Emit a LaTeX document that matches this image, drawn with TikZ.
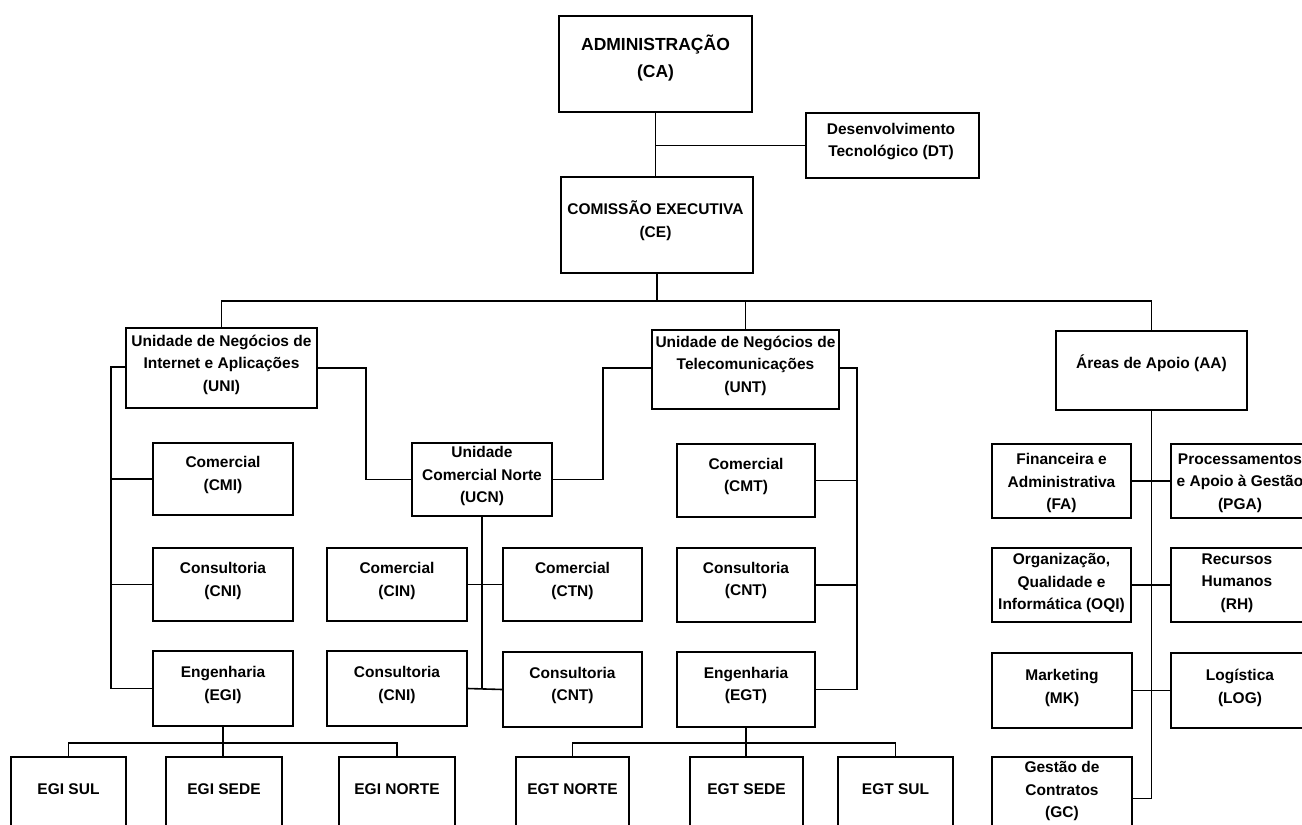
\documentclass[tikz,border=0pt]{standalone}
\usepackage{fontspec}
\setmainfont{Liberation Sans}
\begin{document}
\begin{tikzpicture}[x=1pt,y=-1pt,
  bx/.style={draw, line width=1.6pt, inner sep=0pt, rectangle},
  tx/.style={align=center, inner sep=0pt, font=\bfseries\fontsize{15.5}{22.5}\selectfont},
  bigtx/.style={align=center, inner sep=0pt, font=\bfseries\fontsize{17.5}{27}\selectfont},
  ln/.style={line width=1.6pt}]
\useasboundingbox (0,0) rectangle (1302,825);
\fill[white] (0,0) rectangle (1302,825);
\clip (0,0) rectangle (1302,825);

% ---------- top ----------
\node[bx, minimum width=193pt, minimum height=96pt] (CA) at (655.5,64) {};
\node[bigtx] (CAt) at (655.5,58.5) {ADMINISTRAÇÃO\\(CA)};
\node[bx, minimum width=173pt, minimum height=65pt] (DT) at (892.5,145.5) {};
\node[tx] (DTt) at (891,141.5) {Desenvolvimento\\Tecnológico (DT)};
\node[bx, minimum width=192pt, minimum height=96pt] (CE) at (657,225) {};
\node[tx] (CEt) at (655.5,220.5) {COMISSÃO EXECUTIVA\\(CE)};

% ---------- level 2 ----------
\node[bx, minimum width=191pt, minimum height=80pt] (UNI) at (221.5,368) {};
\node[tx] (UNIt) at (221.5,364.5) {Unidade de Negócios de\\Internet e Aplicações\\(UNI)};
\node[bx, minimum width=187pt, minimum height=79pt] (UNT) at (745.5,369.5) {};
\node[tx] (UNTt) at (745.5,365.5) {Unidade de Negócios de\\Telecomunicações\\(UNT)};
\node[bx, minimum width=191pt, minimum height=79pt] (AA) at (1151.5,370.5) {};
\node[tx] (AAt) at (1151.5,363) {Áreas de Apoio (AA)};

% ---------- UNI column ----------
\node[bx, minimum width=140pt, minimum height=72pt] (CMI) at (223,479) {};
\node[tx] (CMIt) at (223,475) {Comercial\\(CMI)};
\node[bx, minimum width=140pt, minimum height=73pt] (CNIa) at (223,584.5) {};
\node[tx] (CNIat) at (223,581) {Consultoria\\(CNI)};
\node[bx, minimum width=140pt, minimum height=75pt] (EGI) at (223,688.5) {};
\node[tx] (EGIt) at (223,685) {Engenharia\\(EGI)};

% ---------- UCN ----------
\node[bx, minimum width=140pt, minimum height=73pt] (UCN) at (482,479.5) {};
\node[tx] (UCNt) at (482,476) {Unidade\\Comercial Norte\\(UCN)};
\node[bx, minimum width=140pt, minimum height=73pt] (CIN) at (397,584.5) {};
\node[tx] (CINt) at (397,581) {Comercial\\(CIN)};
\node[bx, minimum width=139pt, minimum height=73pt] (CTN) at (572.5,584.5) {};
\node[tx] (CTNt) at (572.5,581) {Comercial\\(CTN)};
\node[bx, minimum width=140pt, minimum height=75pt] (CNIb) at (397,688.5) {};
\node[tx] (CNIbt) at (397,685) {Consultoria\\(CNI)};
\node[bx, minimum width=139pt, minimum height=75pt] (CNTb) at (572.5,689.5) {};
\node[tx] (CNTbt) at (572.5,685.5) {Consultoria\\(CNT)};

% ---------- UNT column ----------
\node[bx, minimum width=138pt, minimum height=73pt] (CMT) at (746,480.5) {};
\node[tx] (CMTt) at (746,476.5) {Comercial\\(CMT)};
\node[bx, minimum width=138pt, minimum height=74pt] (CNT) at (746,585) {};
\node[tx] (CNTt) at (746,580.5) {Consultoria\\(CNT)};
\node[bx, minimum width=138pt, minimum height=75pt] (EGT) at (746,689.5) {};
\node[tx] (EGTt) at (746,685.5) {Engenharia\\(EGT)};

% ---------- AA column ----------
\node[bx, minimum width=139pt, minimum height=74pt] (FA) at (1061.5,481) {};
\node[tx] (FAt) at (1061.5,483) {Financeira e\\Administrativa\\(FA)};
\node[bx, minimum width=138pt, minimum height=74pt] (PGA) at (1240,481) {};
\node[tx] (PGAt) at (1240,483) {Processamentos\\e Apoio à Gestão\\(PGA)};
\node[bx, minimum width=139pt, minimum height=74pt] (OQI) at (1061.5,585) {};
\node[tx] (OQIt) at (1061.5,583) {Organização,\\Qualidade e\\Informática (OQI)};
\node[bx, minimum width=138pt, minimum height=74pt] (RH) at (1240,585) {};
\node[tx] (RHt) at (1237,583) {Recursos\\Humanos\\(RH)};
\node[bx, minimum width=140pt, minimum height=75pt] (MK) at (1062,690.5) {};
\node[tx] (MKt) at (1062,688) {Marketing\\(MK)};
\node[bx, minimum width=138pt, minimum height=75pt] (LOG) at (1240,690.5) {};
\node[tx] (LOGt) at (1240,688) {Logística\\(LOG)};
\node[bx, minimum width=140pt, minimum height=83pt] (GC) at (1062,798.5) {};
\node[tx] (GCt) at (1062,791) {Gestão de\\Contratos\\(GC)};

% ---------- bottom row ----------
\node[bx, minimum width=115pt, minimum height=83pt] (EGIS) at (68.5,798.5) {};
\node[tx] (EGISt) at (68.5,789) {EGI SUL};
\node[bx, minimum width=116pt, minimum height=83pt] (EGISE) at (224,798.5) {};
\node[tx] (EGISEt) at (224,789) {EGI SEDE};
\node[bx, minimum width=116pt, minimum height=83pt] (EGIN) at (397,798.5) {};
\node[tx] (EGINt) at (397,789) {EGI NORTE};
\node[bx, minimum width=113pt, minimum height=83pt] (EGTN) at (572.5,798.5) {};
\node[tx] (EGTNt) at (572.5,789) {EGT NORTE};
\node[bx, minimum width=113pt, minimum height=83pt] (EGTSE) at (746.5,798.5) {};
\node[tx] (EGTSEt) at (746.5,789) {EGT SEDE};
\node[bx, minimum width=115pt, minimum height=83pt] (EGTS) at (895.5,798.5) {};
\node[tx] (EGTSt) at (895.5,789) {EGT SUL};

% ---------- connectors ----------
\draw[ln] (CA.south) -- (CA.south |- CE.north);
\draw[ln] (DT.west) -- (CA.south |- DT.west);

\coordinate (busL) at (221.5,301);
\draw[ln] (UNI.north) -- (busL) -- (busL -| AA.north) -- (AA.north);
\draw[ln] (CE.south) -- (CE.south |- busL);
\draw[ln] (UNT.north) -- (UNT.north |- busL);

\coordinate (spL) at (111,367);
\draw[ln] (UNI.west |- spL) -- (spL) |- (EGI.west);
\draw[ln] (CMI.west) -- (spL |- CMI.west);
\draw[ln] (CNIa.west) -- (spL |- CNIa.west);

\coordinate (uniR) at (366,368);
\draw[ln] (UNI.east |- uniR) -- (uniR) |- (UCN.west);
\coordinate (untL) at (603,368);
\draw[ln] (UNT.west |- untL) -- (untL) |- (UCN.east);

\draw[ln] (UCN.south) -- (UCN.south |- CNIb.east);
\draw[ln] (CIN.east) -- (CTN.west);
\draw[ln] (CNIb.east) -- (CNTb.west);

\coordinate (untR) at (857,368);
\draw[ln] (UNT.east |- untR) -- (untR) |- (EGT.east);
\draw[ln] (CMT.east) -- (untR |- CMT.east);
\draw[ln] (CNT.east) -- (untR |- CNT.east);

\coordinate (egib) at (0,743);
\draw[ln] (EGI.south) -- (EGI.south |- EGISE.north);
\draw[ln] (EGIS.north) -- (EGIS.north |- egib) -- (EGIN.north |- egib) -- (EGIN.north);
\draw[ln] (EGT.south) -- (EGT.south |- EGTSE.north);
\draw[ln] (EGTN.north) -- (EGTN.north |- egib) -- (EGTS.north |- egib) -- (EGTS.north);

\draw[ln] (AA.south) -- (AA.south |- GC.east) -- (GC.east);
\draw[ln] (FA.east) -- (PGA.west);
\draw[ln] (OQI.east) -- (RH.west);
\draw[ln] (MK.east) -- (LOG.west);
\end{tikzpicture}
\end{document}
